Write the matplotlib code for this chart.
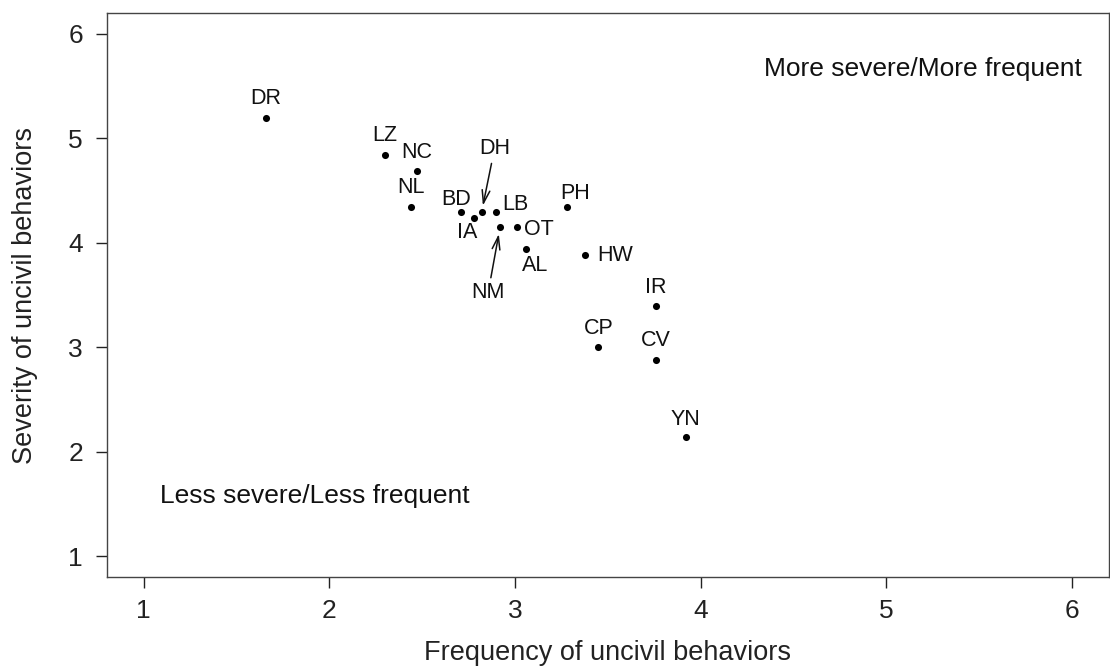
import matplotlib
matplotlib.use("Agg")
import matplotlib.pyplot as plt

plt.rcParams['font.family'] = ['Liberation Sans', 'DejaVu Sans']

codes = ["DR", "LZ", "NC", "NL", "BD", "IA", "DH", "LB", "NM", "OT", "AL",
         "PH", "HW", "IR", "CP", "CV", "YN"]
frequency = [1.66, 2.30, 2.47, 2.44, 2.71, 2.78, 2.82, 2.90, 2.92, 3.01, 3.06,
             3.28, 3.38, 3.76, 3.45, 3.76, 3.92]
severity = [5.19, 4.84, 4.69, 4.34, 4.29, 4.24, 4.29, 4.29, 4.15, 4.15, 3.94,
            4.34, 3.88, 3.39, 3.00, 2.88, 2.14]
ticks = [1, 2, 3, 4, 5, 6]

# label offsets in pixels (dx, dy) relative to point
offsets = {
    "DR": (0, 20), "LZ": (0, 20), "NC": (0, 18), "NL": (0, 20),
    "BD": (-5, 13), "IA": (-7, -15), "LB": (19, 8), "OT": (22, -2),
    "AL": (9, -16), "PH": (8, 14), "HW": (30, 0), "IR": (0, 19),
    "CP": (0, 19), "CV": (0, 19), "YN": (0, 18),
}
# labels drawn with arrows (label position in data coords)
arrow_labels = {"DH": (2.89, 4.90), "NM": (2.856, 3.525)}

fig = plt.figure(figsize=(11.1, 6.66), dpi=100)
ax = fig.add_axes([0.096, 0.1336, 0.903, 0.8469])

ax.scatter(frequency, severity, s=26, color='black', zorder=3, linewidths=0)

for c, x, y in zip(codes, frequency, severity):
    if c in offsets:
        dx, dy = offsets[c]
        ax.annotate(c, (x, y), xytext=(dx, dy), textcoords='offset pixels',
                    ha='center', va='center', fontsize=15.5, color='#111111')
    else:
        tx, ty = arrow_labels[c]
        ax.annotate(c, (x, y), xytext=(tx, ty), textcoords='data',
                    ha='center', va='center', fontsize=15.5, color='#111111',
                    arrowprops=dict(arrowstyle='->,head_length=0.6,head_width=0.18',
                                    color='#111111', lw=1.1,
                                    shrinkA=1, shrinkB=5))

ax.text(4.34, 5.66, "More severe/More frequent", ha='left', va='center',
        fontsize=19, color='#111111')
ax.text(1.09, 1.58, "Less severe/Less frequent", ha='left', va='center',
        fontsize=19, color='#111111')

ax.set_xlim(0.8, 6.2)
ax.set_ylim(0.8, 6.2)
ax.set_xticks(ticks)
ax.set_yticks(ticks)
ax.set_xticklabels([str(t) for t in ticks])
ax.set_yticklabels([str(t) for t in ticks])
ax.tick_params(axis='both', direction='out', length=8, width=1,
               labelsize=19, colors='#222222')
ax.tick_params(axis='x', pad=8)
ax.tick_params(axis='y', pad=9)
for sp in ax.spines.values():
    sp.set_color('#444444')
    sp.set_linewidth(1.0)

ax.set_xlabel("Frequency of uncivil behaviors", fontsize=19.5, labelpad=12,
              color='#222222')
ax.set_ylabel("Severity of uncivil behaviors", fontsize=19.5, labelpad=22,
              color='#222222')

fig.savefig("out.png", dpi=100)
